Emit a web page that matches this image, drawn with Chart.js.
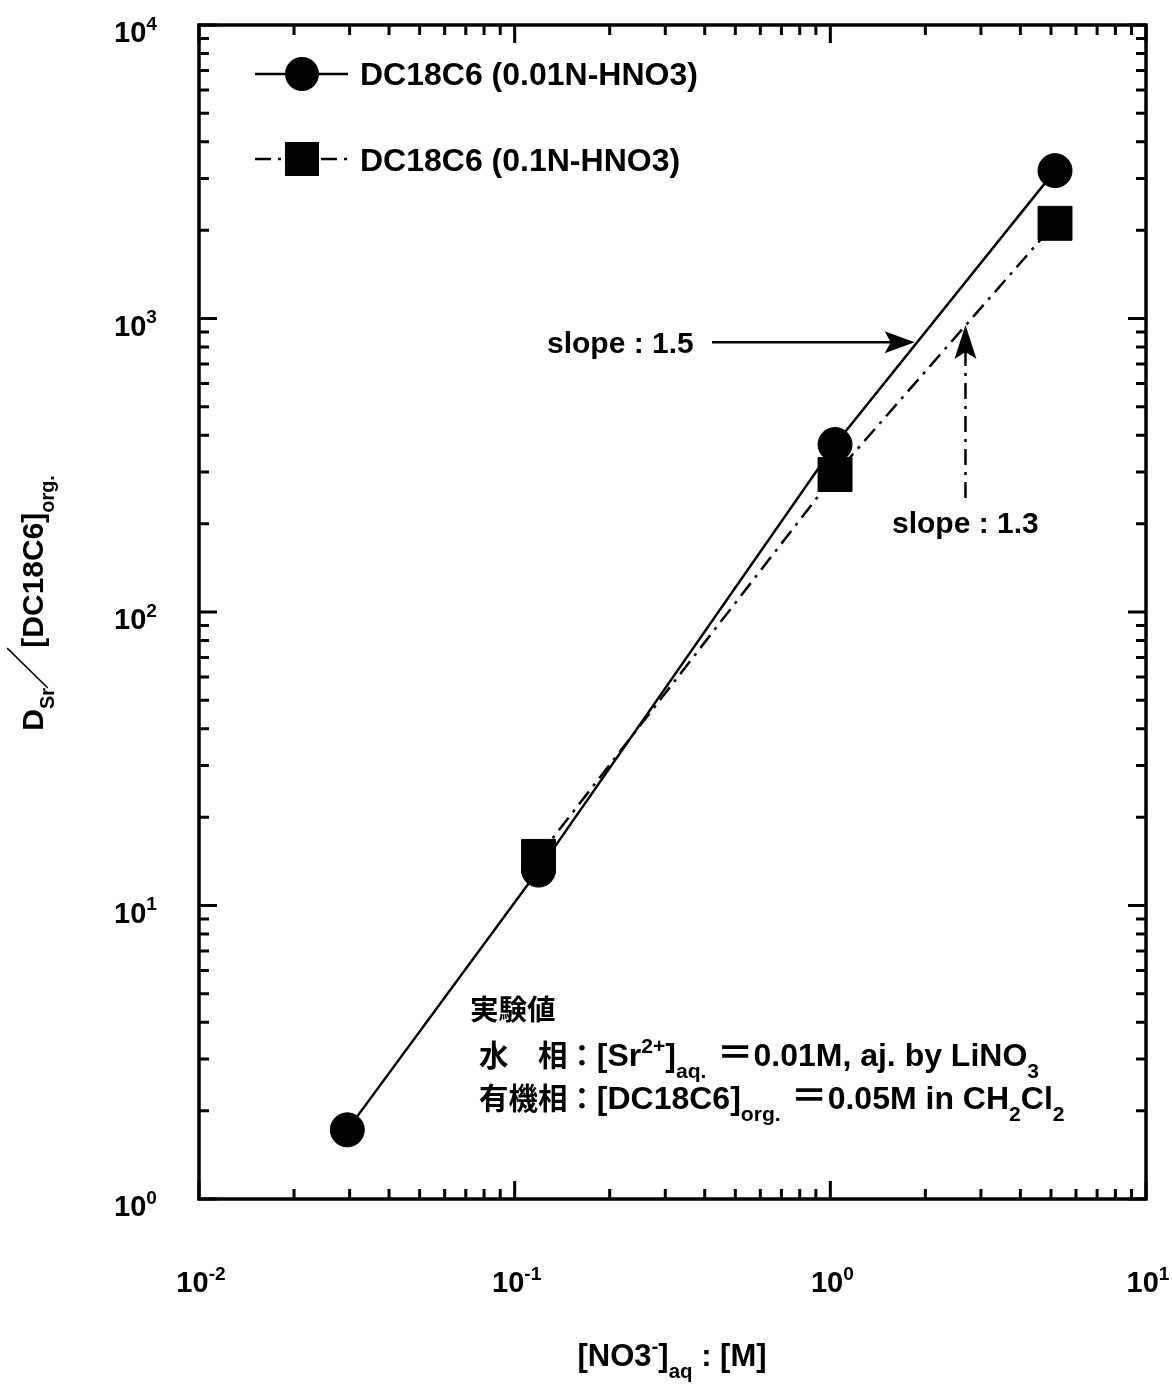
<!DOCTYPE html>
<html>
<head>
<meta charset="utf-8">
<script src="https://cdn.jsdelivr.net/npm/chart.js@4.4.0/dist/chart.umd.min.js"></script>
<style>
html, body { margin: 0; padding: 0; background: #fff; }
#wrap { width: 1172px; height: 1385px; }
</style>
</head>
<body>
<div id="wrap"><canvas id="chart" width="1172" height="1385"></canvas></div>
<script>
// decades shown on each axis (labels are 10^n)
const xExponents = [-2, -1, 0, 1];
const yExponents = [0, 1, 2, 3, 4];

// DC18C6, 0.01N-HNO3 (circles)
const no3Circle = [0.0295, 0.119, 1.035, 5.15];
const dCircle = [1.72, 13.2, 372, 3190];
// DC18C6, 0.1N-HNO3 (squares)
const no3Square = [0.119, 1.035, 5.15];
const dSquare = [14.7, 294, 2110];

const seriesLabels = ['DC18C6 (0.01N-HNO3)', 'DC18C6 (0.1N-HNO3)'];
const slopeLabels = ['slope : 1.5', 'slope : 1.3'];

const FONT = '"Liberation Sans", Arial, "Noto Sans CJK JP", sans-serif';
const DASHDOT = [16, 7, 3, 7];

function toPoints(xs, ys) {
    return xs.map((x, i) => ({ x: x, y: ys[i] }));
}

// draws text made of pieces: [text, 'n' | 'sub' | 'sup', optional size factor]
function drawRich(ctx, parts, x, y, size, align) {
    const sizeOf = p => (p[1] === 'n' ? size : size * 0.66) * (p[2] || 1);
    const widths = parts.map(p => {
        ctx.font = 'bold ' + sizeOf(p) + 'px ' + FONT;
        return ctx.measureText(p[0]).width;
    });
    const total = widths.reduce((a, b) => a + b, 0);
    let cx = align === 'center' ? x - total / 2 : align === 'right' ? x - total : x;
    ctx.textAlign = 'left';
    ctx.textBaseline = 'alphabetic';
    parts.forEach((p, i) => {
        ctx.font = 'bold ' + sizeOf(p) + 'px ' + FONT;
        let dy = 0;
        if (p[1] === 'sup') dy = -size * 0.42;
        if (p[1] === 'sub') dy = size * 0.38;
        ctx.fillText(p[0], cx, y + dy);
        cx += widths[i];
    });
}

function arrowHead(ctx, tx, ty, dir) {
    ctx.beginPath();
    if (dir === 'right') {
        ctx.moveTo(tx - 30, ty - 11);
        ctx.lineTo(tx, ty);
        ctx.lineTo(tx - 30, ty + 11);
        ctx.lineTo(tx - 24, ty);
    } else {
        ctx.moveTo(tx - 11, ty + 34);
        ctx.lineTo(tx, ty);
        ctx.lineTo(tx + 11, ty + 34);
        ctx.lineTo(tx, ty + 27);
    }
    ctx.closePath();
    ctx.fill();
}

const decor = {
    id: 'decor',
    afterDraw(chart) {
        const ctx = chart.ctx;
        const xs = chart.scales.x, ys = chart.scales.y;
        const a = chart.chartArea;
        ctx.save();
        ctx.fillStyle = '#000';
        ctx.strokeStyle = '#000';

        // frame
        ctx.lineWidth = 3.5;
        ctx.strokeRect(a.left, a.top, a.right - a.left, a.bottom - a.top);

        // inward ticks on all four sides
        ctx.lineWidth = 3;
        ctx.beginPath();
        yExponents.forEach(e => {
            for (let m = 1; m <= 9; m++) {
                const v = m * Math.pow(10, e);
                if (v > ys.max) break;
                const py = ys.getPixelForValue(v);
                const len = m === 1 ? 18 : 10;
                ctx.moveTo(a.left, py); ctx.lineTo(a.left + len, py);
                ctx.moveTo(a.right, py); ctx.lineTo(a.right - len, py);
            }
        });
        xExponents.forEach(e => {
            for (let m = 1; m <= 9; m++) {
                const v = m * Math.pow(10, e);
                if (v > xs.max) break;
                const px = xs.getPixelForValue(v);
                const len = m === 1 ? 18 : 10;
                ctx.moveTo(px, a.bottom); ctx.lineTo(px, a.bottom - len);
                ctx.moveTo(px, a.top); ctx.lineTo(px, a.top + len);
            }
        });
        ctx.stroke();

        // tick labels
        yExponents.forEach(e => {
            const py = ys.getPixelForValue(Math.pow(10, e));
            drawRich(ctx, [['10', 'n'], [String(e), 'sup']], 157, py + 17, 29, 'right');
        });
        xExponents.forEach(e => {
            const px = xs.getPixelForValue(Math.pow(10, e));
            drawRich(ctx, [['10', 'n'], [String(e), 'sup']], px + 2, 1292, 29, 'center');
        });

        // axis titles
        drawRich(ctx, [['[NO3', 'n'], ['-', 'sup'], [']', 'n'], ['aq', 'sub'], [' : [M]', 'n']], 672, 1366, 31, 'center');
        ctx.save();
        ctx.translate(43, 603);
        ctx.rotate(-Math.PI / 2);
        drawRich(ctx, [['D', 'n'], ['Sr', 'sub'], ['╱', 'n', 1.35], ['[DC18C6]', 'n'], ['org.', 'sub']], 0, 0, 30, 'center');
        ctx.restore();

        // legend
        ctx.lineWidth = 2.5;
        ctx.setLineDash([]);
        ctx.beginPath(); ctx.moveTo(255, 74); ctx.lineTo(348, 74); ctx.stroke();
        ctx.beginPath(); ctx.arc(302, 74, 17, 0, Math.PI * 2); ctx.fill();
        ctx.setLineDash(DASHDOT);
        ctx.beginPath(); ctx.moveTo(255, 159); ctx.lineTo(348, 159); ctx.stroke();
        ctx.setLineDash([]);
        ctx.fillRect(285, 142, 34, 34);
        drawRich(ctx, [[seriesLabels[0], 'n']], 360, 85, 32, 'left');
        drawRich(ctx, [[seriesLabels[1], 'n']], 360, 171, 32, 'left');

        // slope annotations
        drawRich(ctx, [[slopeLabels[0], 'n']], 547, 353, 30, 'left');
        const t1x = xs.getPixelForValue(1.85), t1y = ys.getPixelForValue(830);
        ctx.lineWidth = 2.5;
        ctx.beginPath(); ctx.moveTo(712, t1y); ctx.lineTo(t1x - 10, t1y); ctx.stroke();
        arrowHead(ctx, t1x, t1y, 'right');

        drawRich(ctx, [[slopeLabels[1], 'n']], 892, 533, 30, 'left');
        const t2x = xs.getPixelForValue(2.68), t2y = ys.getPixelForValue(950);
        ctx.setLineDash(DASHDOT);
        ctx.beginPath(); ctx.moveTo(t2x, 498); ctx.lineTo(t2x, t2y + 20); ctx.stroke();
        ctx.setLineDash([]);
        arrowHead(ctx, t2x, t2y, 'up');

        // experimental conditions (CJK glyphs a little smaller than the latin text)
        drawRich(ctx, [['実験値', 'n', 0.92]], 470, 1020, 31, 'left');
        drawRich(ctx, [['水　相：', 'n', 0.92], ['[Sr', 'n'], ['2+', 'sup'], [']', 'n'], ['aq.', 'sub'],
            [' ＝', 'n', 1.15], ['0.01M, aj. by LiNO', 'n'], ['3', 'sub']], 479, 1066, 32, 'left');
        drawRich(ctx, [['有機相：', 'n', 0.92], ['[DC18C6]', 'n'], ['org.', 'sub'],
            [' ＝', 'n', 1.15], ['0.05M in CH', 'n'], ['2', 'sub'], ['Cl', 'n'], ['2', 'sub']], 479, 1109, 32, 'left');

        ctx.restore();
    }
};

new Chart(document.getElementById('chart'), {
    type: 'scatter',
    data: {
        datasets: [{
            label: seriesLabels[0],
            data: toPoints(no3Circle, dCircle),
            showLine: true,
            borderColor: '#000',
            backgroundColor: '#000',
            borderWidth: 2.5,
            pointStyle: 'circle',
            pointRadius: 17,
            pointBorderWidth: 1
        }, {
            label: seriesLabels[1],
            data: toPoints(no3Square, dSquare),
            showLine: true,
            borderColor: '#000',
            backgroundColor: '#000',
            borderWidth: 2.5,
            borderDash: DASHDOT,
            pointStyle: 'rect',
            pointRadius: 24,
            pointBorderWidth: 1
        }]
    },
    options: {
        responsive: false,
        animation: false,
        layout: { padding: { left: 199, right: 26, top: 21, bottom: 186 } },
        plugins: { legend: { display: false }, tooltip: { enabled: false } },
        scales: {
            x: { type: 'logarithmic', min: 0.01, max: 10, display: false },
            y: { type: 'logarithmic', min: 1, max: 10000, display: false }
        }
    },
    plugins: [decor]
});
</script>
</body>
</html>
